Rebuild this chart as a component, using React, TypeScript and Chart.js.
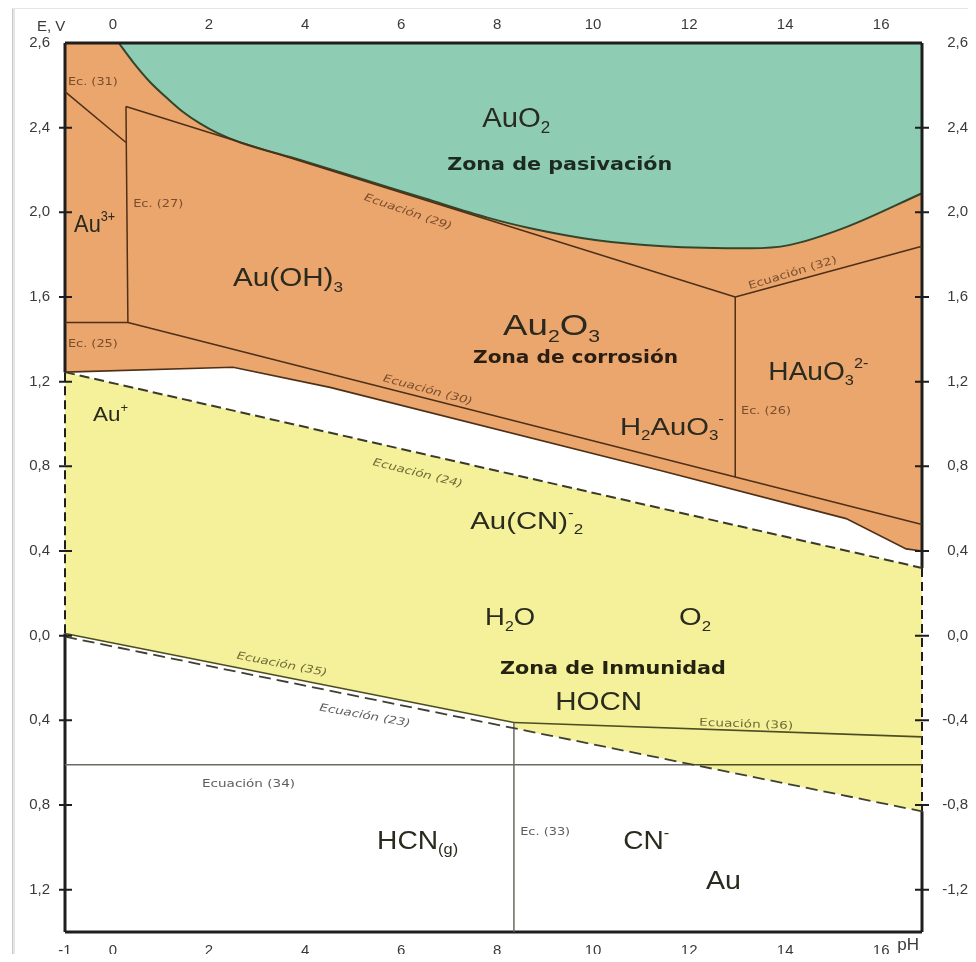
import React, { useEffect, useRef } from "react";
import { Chart, registerables } from "chart.js";

Chart.register(...registerables);

// ---------- axes ----------
const PH_MIN = -1;
const PH_MAX = 16.85;
const E_MIN = -1.4;
const E_MAX = 2.8;

const phTicksTop = [0, 2, 4, 6, 8, 10, 12, 14, 16];
const phTicksBottom = [-1, 0, 2, 4, 6, 8, 10, 12, 14, 16];
const eTicks = [-1.2, -0.8, -0.4, 0, 0.4, 0.8, 1.2, 1.6, 2.0, 2.4, 2.8];
const eLabelsLeft = ["1,2", "0,8", "0,4", "0,0", "0,4", "0,8", "1,2", "1,6", "2,0", "2,4", "2,6"];
const eLabelsRight = ["-1,2", "-0,8", "-0,4", "0,0", "0,4", "0,8", "1,2", "1,6", "2,0", "2,4", "2,6"];

// ---------- boundaries (pH, E in V) ----------
// AuO2 passivation boundary
const passPH = [0.12, 0.417, 0.77, 1.125, 1.46, 1.81, 2.17, 2.65, 3.9, 5.15, 6.5, 7.8, 8.69, 10.08, 11.46, 13.27, 14.08, 15.27, 16.85];
const passE = [2.8, 2.71, 2.616, 2.54, 2.474, 2.42, 2.375, 2.33, 2.247, 2.16, 2.065, 1.975, 1.925, 1.868, 1.84, 1.83, 1.845, 1.93, 2.09];
// lower limit of the corrosion field
const corrPH = [-1, 2.5, 4.52, 11.4, 15.27, 16.52, 16.85];
const corrE = [1.245, 1.268, 1.173, 0.78, 0.553, 0.41, 0.4];
// equations inside the corrosion field
const eq31PH = [-1, 0.27];
const eq31E = [2.57, 2.33];
const eq27PH = [0.27, 0.31];
const eq27E = [2.5, 1.48];
const eq29PH = [0.27, 12.96];
const eq29E = [2.5, 1.6];
const eq32PH = [12.96, 16.85];
const eq32E = [1.6, 1.84];
const eq26PH = [12.96, 12.96];
const eq26E = [1.6, 0.75];
const eq25PH = [-1, 0.31];
const eq25E = [1.48, 1.48];
const eq30PH = [0.31, 16.85];
const eq30E = [1.48, 0.525];
// immunity (Au(CN)2-) field
const eq24PH = [-1, 16.85];
const eq24E = [1.245, 0.32];
const eq35PH = [-1, 8.35];
const eq35E = [0.01, -0.41];
const eq36PH = [8.35, 16.85];
const eq36E = [-0.41, -0.478];
const eq23PH = [-1, 16.85];
const eq23E = [-0.005, -0.83];
const eq34PH = [-1, 12.1, 16.85];
const eq34E = [-0.61, -0.61, -0.61];
const eq33PH = [8.35, 8.35];
const eq33E = [-0.41, -1.4];
const immunityPH = [-1, 16.85, 16.85, 8.35, 8.35, -1];
const immunityE = [1.245, 0.32, -0.83, -0.437, -0.41, 0.01];

// ---------- text annotations ----------
type Seg = { t: string; s?: "sub" | "sup" };
type Ann = {
  segs: Seg[];
  x: number;
  y: number;
  size: number;
  w?: number;
  color: string;
  weight?: string;
  italic?: boolean;
  family?: string;
  rot?: number;
  align?: "left" | "center";
};

const DARK = "#2a2a1e";
const BROWN = "#7a4e2c";
const OLIVE = "#6f6c38";
const GRAY = "#5e5e5e";
const GEO = "DejaVu Sans";

const annotations: Ann[] = [
  { segs: [{ t: "AuO" }, { t: "2", s: "sub" }], x: 7.69, y: 2.45, size: 27, w: 68, color: DARK },
  { segs: [{ t: "Zona de pasivación" }], x: 6.96, y: 2.228, size: 17, w: 225, color: "#1c2a20", weight: "bold", family: GEO },
  { segs: [{ t: "Ec. (31)" }], x: -0.94, y: 2.62, size: 10, w: 50, color: BROWN, family: GEO },
  { segs: [{ t: "Au" }, { t: "3+", s: "sup" }], x: -0.81, y: 1.95, size: 24, w: 41, color: DARK },
  { segs: [{ t: "Ec. (27)" }], x: 0.42, y: 2.04, size: 10, w: 50, color: BROWN, family: GEO },
  { segs: [{ t: "Au(OH)" }, { t: "3", s: "sub" }], x: 2.5, y: 1.693, size: 25, w: 110, color: DARK },
  { segs: [{ t: "Ecuación (29)" }], x: 6.15, y: 2.005, size: 10.5, w: 92, color: BROWN, italic: true, family: GEO, rot: 19, align: "center" },
  { segs: [{ t: "Au" }, { t: "2", s: "sub" }, { t: "O" }, { t: "3", s: "sub" }], x: 8.125, y: 1.47, size: 30, w: 97, color: DARK },
  { segs: [{ t: "Zona de corrosión" }], x: 7.5, y: 1.315, size: 17, w: 205, color: "#2a1d12", weight: "bold", family: GEO },
  { segs: [{ t: "Ecuación (32)" }], x: 14.15, y: 1.717, size: 10.5, w: 92, color: BROWN, family: GEO, rot: -17, align: "center" },
  { segs: [{ t: "HAuO" }, { t: "3", s: "sub" }, { t: "2-", s: "sup" }], x: 13.65, y: 1.254, size: 26, w: 100, color: DARK },
  { segs: [{ t: "Ec. (25)" }], x: -0.94, y: 1.38, size: 10, w: 50, color: BROWN, family: GEO },
  { segs: [{ t: "Ecuación (30)" }], x: 6.56, y: 1.164, size: 10.5, w: 92, color: BROWN, italic: true, family: GEO, rot: 15, align: "center" },
  { segs: [{ t: "H" }, { t: "2", s: "sub" }, { t: "AuO" }, { t: "3", s: "sub" }, { t: "-", s: "sup" }], x: 10.56, y: 0.989, size: 24, w: 104, color: DARK },
  { segs: [{ t: "Ec. (26)" }], x: 13.08, y: 1.064, size: 10, w: 50, color: BROWN, family: GEO },
  { segs: [{ t: "Au" }, { t: "+", s: "sup" }], x: -0.417, y: 1.05, size: 21, w: 35, color: DARK },
  { segs: [{ t: "Ecuación (24)" }], x: 6.35, y: 0.771, size: 10.5, w: 92, color: OLIVE, italic: true, family: GEO, rot: 14, align: "center" },
  { segs: [{ t: "Au(CN)" }, { t: "-", s: "sup" }, { t: "2", s: "sub" }], x: 7.44, y: 0.544, size: 24, w: 113, color: DARK },
  { segs: [{ t: "H" }, { t: "2", s: "sub" }, { t: "O" }], x: 7.75, y: 0.09, size: 24, w: 50, color: DARK },
  { segs: [{ t: "O" }, { t: "2", s: "sub" }], x: 11.79, y: 0.09, size: 24, w: 32, color: DARK },
  { segs: [{ t: "Zona de Inmunidad" }], x: 8.06, y: -0.151, size: 17, w: 226, color: "#23230f", weight: "bold", family: GEO },
  { segs: [{ t: "HOCN" }], x: 9.21, y: -0.307, size: 26, w: 87, color: DARK },
  { segs: [{ t: "Ecuación (35)" }], x: 3.52, y: -0.132, size: 10.5, w: 92, color: OLIVE, italic: true, family: GEO, rot: 11, align: "center" },
  { segs: [{ t: "Ecuación (23)" }], x: 5.25, y: -0.374, size: 10.5, w: 92, color: GRAY, italic: true, family: GEO, rot: 10, align: "center" },
  { segs: [{ t: "Ecuación (36)" }], x: 12.21, y: -0.407, size: 10.5, w: 94, color: OLIVE, family: GEO, rot: 2 },
  { segs: [{ t: "Ecuación (34)" }], x: 1.854, y: -0.695, size: 10.5, w: 93, color: GRAY, family: GEO },
  { segs: [{ t: "HCN" }, { t: "(g)", s: "sub" }], x: 5.5, y: -0.965, size: 25, w: 81, color: DARK },
  { segs: [{ t: "Ec. (33)" }], x: 8.48, y: -0.927, size: 10, w: 50, color: GRAY, family: GEO },
  { segs: [{ t: "CN" }, { t: "-", s: "sup" }], x: 10.625, y: -0.965, size: 25, w: 46, color: DARK },
  { segs: [{ t: "Au" }], x: 12.35, y: -1.154, size: 25, w: 35, color: DARK },
];

// ---------- helpers ----------
const pts = (xs: number[], ys: number[]) => xs.map((x, i) => ({ x, y: ys[i] }));

function lineDs(data: { x: number; y: number }[], color: string, width: number, dash: number[] = [], order = 1) {
  return {
    type: "line" as const,
    data,
    borderColor: color,
    borderWidth: width,
    borderDash: dash,
    pointRadius: 0,
    fill: false,
    tension: 0,
    order,
    clip: 6,
  };
}

function drawRich(ctx: CanvasRenderingContext2D, a: Ann, px: number, py: number) {
  const fam = a.family || "Liberation Sans";
  const fontFor = (sz: number) => `${a.italic ? "italic" : "normal"} ${a.weight || "normal"} ${sz}px "${fam}"`;
  const widths: number[] = [];
  let total = 0;
  for (const s of a.segs) {
    const sz = s.s ? a.size * 0.58 : a.size;
    ctx.font = fontFor(sz);
    const w = ctx.measureText(s.t).width;
    widths.push(w);
    total += w;
  }
  const sx = a.w ? a.w / total : 1;
  ctx.save();
  ctx.translate(px, py);
  if (a.rot) ctx.rotate((a.rot * Math.PI) / 180);
  ctx.scale(sx, 1);
  ctx.fillStyle = a.color;
  ctx.textBaseline = "alphabetic";
  ctx.textAlign = "left";
  let cx = a.align === "center" ? -total / 2 : 0;
  const base = a.size * 0.36;
  a.segs.forEach((s, i) => {
    const sz = s.s ? a.size * 0.58 : a.size;
    ctx.font = fontFor(sz);
    let dy = base;
    if (s.s === "sub") dy = base + a.size * 0.22;
    if (s.s === "sup") dy = base - a.size * 0.45;
    ctx.fillText(s.t, cx, dy);
    cx += widths[i];
  });
  ctx.restore();
}

const framePlugin = {
  id: "frame",
  beforeDraw(chart: any) {
    const ctx = chart.ctx as CanvasRenderingContext2D;
    ctx.save();
    ctx.fillStyle = "#c9c9c9";
    ctx.fillRect(4, 0, 1, chart.height);
    ctx.fillStyle = "#e6e6e6";
    ctx.fillRect(5, 0, 2, chart.height);
    ctx.fillRect(4, 0, chart.width - 4, 1);
    ctx.restore();
  },
};

const annotationPlugin = {
  id: "annotations",
  afterDatasetsDraw(chart: any) {
    const ctx = chart.ctx as CanvasRenderingContext2D;
    const xs = chart.scales.x;
    const ys = chart.scales.y;
    const area = chart.chartArea;
    // tick marks crossing the left and right borders
    ctx.save();
    ctx.strokeStyle = "#1e1e1e";
    ctx.lineWidth = 2;
    for (const v of eTicks) {
      if (v >= E_MAX - 1e-6) continue;
      const py = ys.getPixelForValue(v);
      ctx.beginPath();
      ctx.moveTo(area.left - 6, py);
      ctx.lineTo(area.left + 7, py);
      ctx.moveTo(area.right - 7, py);
      ctx.lineTo(area.right + 7, py);
      ctx.stroke();
    }
    ctx.restore();
    for (const a of annotations) {
      drawRich(ctx, a, xs.getPixelForValue(a.x), ys.getPixelForValue(a.y));
    }
    // axis names
    ctx.save();
    ctx.fillStyle = "#3a3a3a";
    ctx.font = '15px "Liberation Sans"';
    ctx.textBaseline = "middle";
    ctx.textAlign = "left";
    ctx.fillText("E, V", 29, 19);
    ctx.font = '17px "Liberation Sans"';
    ctx.fillText("pH", xs.getPixelForValue(16) + 16, area.bottom + 13);
    ctx.restore();
  },
};

const tickFont = { family: "Liberation Sans", size: 15 };
const tickColor = "#3a3a3a";

function findLabel(v: number, labels: string[]) {
  const i = eTicks.findIndex((t) => Math.abs(t - v) < 1e-6);
  return i >= 0 ? labels[i] : "";
}

export default function App() {
  const ref = useRef<HTMLCanvasElement | null>(null);
  useEffect(() => {
    if (!ref.current) return;
    const BORDER = "#1e1e1e";
    const eq34 = pts(eq34PH, eq34E);
    const datasets: any[] = [
      {
        type: "line",
        data: pts(corrPH, corrE),
        borderColor: "#4e2f17",
        borderWidth: 1.6,
        backgroundColor: "#EBA66E",
        fill: "end",
        pointRadius: 0,
        tension: 0,
        order: 30,
      },
      {
        type: "line",
        data: pts(passPH, passE),
        borderColor: "#34462a",
        borderWidth: 2,
        backgroundColor: "#8ECDB4",
        fill: "end",
        pointRadius: 0,
        cubicInterpolationMode: "monotone",
        order: 20,
      },
      {
        type: "line",
        data: pts(immunityPH, immunityE),
        borderWidth: 0,
        borderColor: "rgba(0,0,0,0)",
        backgroundColor: "#F4F19A",
        fill: "shape",
        pointRadius: 0,
        tension: 0,
        order: 20,
      },
      lineDs(pts(eq31PH, eq31E), "#4e2f17", 1.5),
      lineDs(pts(eq27PH, eq27E), "#4e2f17", 1.5),
      lineDs(pts(eq29PH, eq29E), "#4e2f17", 1.5),
      lineDs(pts(eq32PH, eq32E), "#4e2f17", 1.5),
      lineDs(pts(eq26PH, eq26E), "#4e2f17", 1.5),
      lineDs(pts(eq25PH, eq25E), "#4e2f17", 1.5),
      lineDs(pts(eq30PH, eq30E), "#4e2f17", 1.5),
      lineDs(pts(eq24PH, eq24E), "#3a3a2a", 2, [10, 5]),
      lineDs(pts(eq35PH, eq35E), "#4d4c22", 1.6),
      lineDs(pts(eq36PH, eq36E), "#4d4c22", 1.6),
      lineDs(pts(eq23PH, eq23E), "#3f3f32", 1.8, [12, 6]),
      lineDs(eq34.slice(0, 2), "#6a6a62", 1.5),
      lineDs(eq34.slice(1), "#4d4c22", 1.5),
      lineDs(pts(eq33PH, eq33E), "#6a6a62", 1.5),
      // plot frame
      lineDs(pts([PH_MIN, PH_MAX], [E_MAX, E_MAX]), BORDER, 3),
      lineDs(pts([PH_MIN, PH_MAX], [E_MIN, E_MIN]), BORDER, 3),
      lineDs(pts([PH_MIN, PH_MIN], [E_MAX, corrE[0]]), BORDER, 3),
      lineDs(pts([PH_MIN, PH_MIN], [corrE[0], eq35E[0]]), BORDER, 2, [9, 5]),
      lineDs(pts([PH_MIN, PH_MIN], [eq35E[0], E_MIN]), BORDER, 3),
      lineDs(pts([PH_MAX, PH_MAX], [E_MAX, eq24E[1]]), BORDER, 3),
      lineDs(pts([PH_MAX, PH_MAX], [eq24E[1], eq23E[1]]), BORDER, 2, [9, 5]),
      lineDs(pts([PH_MAX, PH_MAX], [eq23E[1], E_MIN]), BORDER, 3),
    ];

    const chart = new Chart(ref.current, {
      type: "line",
      data: { datasets },
      options: {
        animation: false,
        responsive: false,
        events: [],
        layout: { padding: 0 },
        plugins: { legend: { display: false }, tooltip: { enabled: false } },
        scales: {
          x: {
            type: "linear",
            position: "bottom",
            min: PH_MIN,
            max: PH_MAX,
            grid: { display: false },
            border: { display: false },
            afterFit: (s: any) => {
              s.height = 22;
            },
            afterBuildTicks: (s: any) => {
              s.ticks = phTicksBottom.map((v) => ({ value: v }));
            },
            ticks: { autoSkip: false, maxRotation: 0, padding: 2, color: tickColor, font: tickFont, callback: (v: any) => String(v) },
          },
          xTop: {
            type: "linear",
            position: "top",
            min: PH_MIN,
            max: PH_MAX,
            grid: { display: false },
            border: { display: false },
            afterFit: (s: any) => {
              s.height = 35;
            },
            afterBuildTicks: (s: any) => {
              s.ticks = phTicksTop.map((v) => ({ value: v }));
            },
            ticks: { autoSkip: false, maxRotation: 0, padding: 1, color: tickColor, font: tickFont, callback: (v: any) => String(v) },
          },
          y: {
            type: "linear",
            position: "left",
            min: E_MIN,
            max: E_MAX,
            grid: { display: false },
            border: { display: false },
            afterFit: (s: any) => {
              s.width = 57;
            },
            afterBuildTicks: (s: any) => {
              s.ticks = eTicks.map((v) => ({ value: v }));
            },
            ticks: { autoSkip: false, padding: 7, color: tickColor, font: tickFont, callback: (v: any) => findLabel(Number(v), eLabelsLeft) },
          },
          yRight: {
            type: "linear",
            position: "right",
            min: E_MIN,
            max: E_MAX,
            grid: { display: false },
            border: { display: false },
            afterFit: (s: any) => {
              s.width = 46;
            },
            afterBuildTicks: (s: any) => {
              s.ticks = eTicks.map((v) => ({ value: v }));
            },
            ticks: { autoSkip: false, crossAlign: "far", padding: 7, color: tickColor, font: tickFont, callback: (v: any) => findLabel(Number(v), eLabelsRight) },
          },
        },
      } as any,
      plugins: [framePlugin, annotationPlugin],
    });
    return () => chart.destroy();
  }, []);

  return (
    <div style={{ width: 960, height: 946 }}>
      <canvas ref={ref} width={960} height={946} style={{ display: "block", width: 960, height: 946 }} />
    </div>
  );
}
